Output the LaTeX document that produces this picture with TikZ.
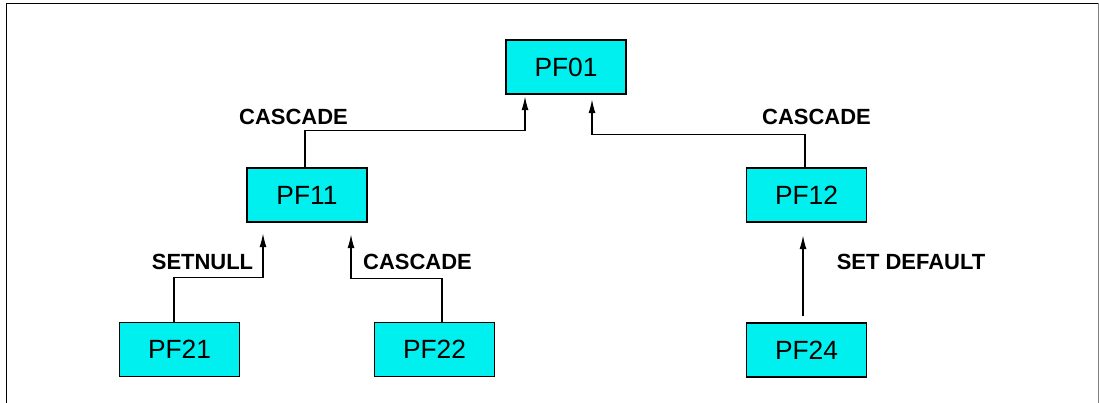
\documentclass[tikz,border=0pt]{standalone}
\usepackage{fontspec}
\setmainfont{Liberation Sans}
\usetikzlibrary{arrows.meta,positioning}
\definecolor{boxcyan}{RGB}{0,240,240}

\begin{document}
\begin{tikzpicture}[
  table/.style={rectangle, draw=black, line width=0.7pt, fill=boxcyan, minimum width=2.4cm, minimum height=1.08cm, inner sep=0pt, font=\fontsize{15}{16}\selectfont},
  rule/.style={font=\bfseries\fontsize{12.5}{14}\selectfont, inner sep=0pt},
  line/.style={-{Latex[length=2.7mm, width=1.4mm]}, line width=0.6pt}
]
\useasboundingbox (0,0) rectangle (22,-8.06);
\draw[line width=0.9pt] (0.13,-8.06) -- (0.13,-0.07) -- (21.97,-0.07);
\draw[line width=0.9pt, gray] (21.97,-0.07) -- (21.97,-8.06);

\node[table] (pf01) at (11.32,-1.34) {PF01};
\node[table] (pf11) at (6.14,-3.9) {PF11};
\node[table] (pf12) at (16.13,-3.9) {PF12};
\node[table] (pf21) at (3.59,-6.99) {PF21};
\node[table] (pf22) at (8.69,-6.99) {PF22};
\node[table] (pf24) at (16.13,-7.0) {PF24};

\draw[line, shorten >=0.04cm] ([xshift=-0.04cm]pf11.north) -- ++(0,0.74) -| ([xshift=-0.82cm]pf01.south);
\draw[line, shorten >=0.1cm] ([xshift=-0.03cm]pf12.north) -- ++(0,0.66) -| ([xshift=0.52cm]pf01.south);
\draw[line, shorten >=0.22cm] ([xshift=-0.11cm]pf21.north) -- ++(0,0.88) -| ([xshift=-0.88cm]pf11.south);
\draw[line, shorten >=0.24cm] ([xshift=0.15cm]pf22.north) -- ++(0,0.86) -| ([xshift=0.88cm]pf11.south);
\draw[line, shorten <=0.12cm, shorten >=0.26cm] ([xshift=-0.07cm]pf24.north) -- ([xshift=-0.07cm]pf12.south);

\node[rule] (lcascade) at (5.87,-2.34) {CASCADE};
\node[rule] (rcascade) at (16.33,-2.34) {CASCADE};
\node[rule] (setnull) at (4.05,-5.24) {SETNULL};
\node[rule] (bcascade) at (8.35,-5.24) {CASCADE};
\node[rule] (setdefault) at (18.22,-5.24) {SET DEFAULT};
\end{tikzpicture}
\end{document}
